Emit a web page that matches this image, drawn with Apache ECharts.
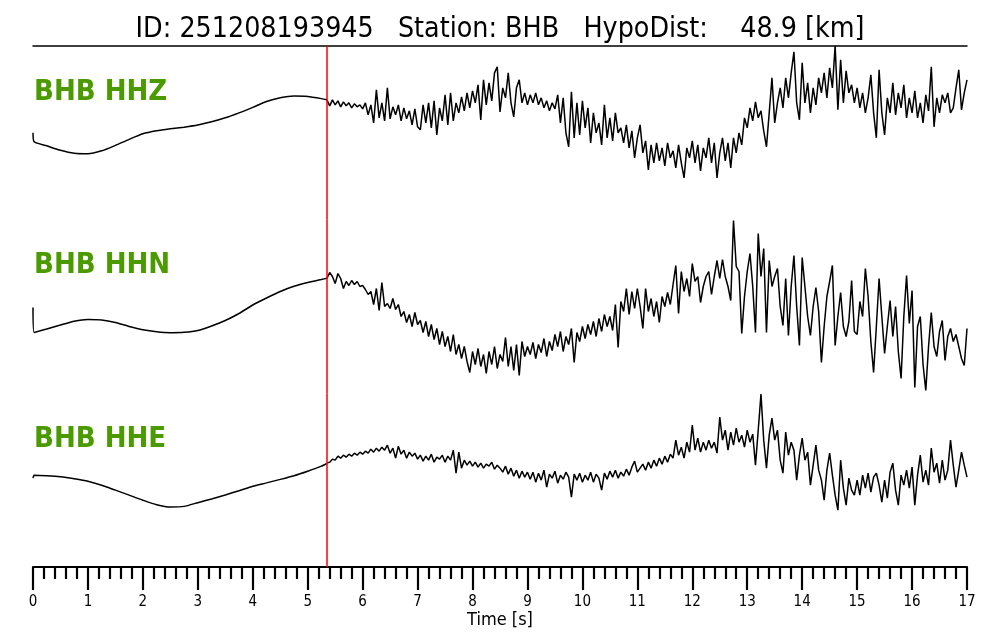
<!DOCTYPE html>
<html><head><meta charset="utf-8">
<script src="https://cdn.jsdelivr.net/npm/echarts@6/dist/echarts.min.js"></script>
<style>html,body{margin:0;padding:0;background:#fff}#c{width:1000px;height:640px}</style>
</head><body><div id="c"></div><script>
const TITLE = 'ID: 251208193945   Station: BHB   HypoDist:    48.9 [km]';
const CHANNELS = ['BHB HHZ', 'BHB HHN', 'BHB HHE'];
const PICK_TIME = 5.35;
const X_MIN = 0, X_MAX = 17;

// pre-pick samples (s)
const PRE_T = [0, 0.02, 0.25, 0.5, 0.75, 1, 1.25, 1.5, 1.75, 2, 2.25, 2.5, 2.75, 3, 3.25, 3.5, 3.75, 4, 4.25, 4.5, 4.75, 5, 5.25, 5.35];
const HHZ_PRE = [0, -9, -13, -17.5, -20.5, -21, -18, -12.5, -6.5, -1, 2, 4, 5.7, 7.8, 11, 15, 20, 25.5, 31.3, 35, 36.8, 36.4, 34.2, 33];
const HHN_PRE = [-1, -26, -22.5, -18.5, -14.7, -13, -13.5, -16, -20, -23.3, -25.3, -26.2, -25.8, -24, -19.5, -14, -7, 1.5, 8.5, 15, 20.2, 24, 27, 28.3];
const HHE_PRE = [2, 5, 4.5, 3.5, 1.5, -1, -5, -10, -15, -20, -24.5, -26.8, -26.2, -22.5, -18.8, -14.8, -10.5, -6, -2.7, 0.8, 4.5, 9, 14, 16.7];

// post-pick samples every POST_DT s from POST_T0
const POST_T0 = 5.35, POST_DT = 0.05;
const HHZ_POST = [
 33, 27, 33, 28, 32, 26, 31, 27, 30, 25, 29, 26, 28, 24,
 30, 18, 28, 10, 43, 15, 30, 12, 45, 14, 26, 18, 28, 12, 25, 14, 22, 8, 24, 6,
 3, 28, 10, 30, 5, 32, -2, 25, 12, 38, 8, 40, 12, 30, 20, 36, 22, 40, 25, 42,
 30, 48, 13, 53, 28, 50, 32, 60, 66, 21, 45, 35, 60, 30, 16, 45, 53, 30, 40, 28,
 38, 30, 40, 28, 35, 25, 32, 22, 30, 24, 38, 10, 35, 0, -14, 41, -5, 30, -2, 32,
 5, 25, -10, 20, 0, 10, -12, 28, -5, 15, -8, 20, 0, 5, -10, 8, -15, 2, -25, -5,
 8, -20, -8, -37, -12, -30, -10, -28, -15, -33, -10, -25, -18, -35, -12, -30, -45, -15, -25, -8,
 -30, -12, -38, -15, -25, -5, -30, -10, -45, -20, -5, -28, -10, -35, -5, -20, 0, -12, 15, 5,
 25, 12, 31, 15, 22, 2, -14, 20, 55, 10, 30, 45, 25, 55, 35, 60, 81, 30, 13, 70,
 30, 50, 20, 45, 28, 55, 40, 60, 35, 65, 45, 87, 23, 73, 30, 62, 40, 48, 30, 45,
 25, 40, 20, 35, 58, 20, -5, 63, 20, -2, 35, 20, 50, 18, 40, 25, 48, 15, 35, 20,
 42, 15, 30, 10, 38, 22, 66, 6, 35, 20, 38, 30, 40, 20, 25, 45, 63, 23, 40, 53];
const HHN_POST = [
 28, 34, 30, 23, 33, 28, 18, 25, 21, 26, 22, 25, 20, 21,
 17, 12, 15, 2, 18, -4, 24, 0, 3, -2, 8, -3, 2, -10, -5, -16, -8, -20, -6, -18,
 -14, -26, -15, -30, -18, -33, -22, -38, -25, -40, -30, -45, -28, -48, -38, -52, -40, -55, -66, -45,
 -58, -42, -60, -48, -67, -45, -58, -40, -62, -48, -55, -31, -60, -40, -64, -38, -69, -35, -50, -40,
 -48, -36, -52, -38, -46, -32, -50, -35, -44, -28, -40, -25, -45, -30, -38, -22, -56, -26, -35, -20,
 -32, -18, -28, -15, -30, -12, -25, -8, -20, -10, -24, 2, -41, 5, -5, 18, -8, 15, -2, 18,
 0, -22, 18, -5, 8, -10, 5, -16, 10, 0, 14, 2, 22, 41, -7, 35, 15, 28, 10, 43,
 25, 30, 4, 20, 30, 35, 12, 30, 46, 28, 47, 30, 20, 6, 86, 40, 35, -27, 10, 35,
 53, 20, -26, 73, 30, 58, -26, 46, 20, 30, 38, 0, -19, 28, -29, 20, 51, 0, -39, 49,
 20, -10, -29, 0, 19, -5, -56, -20, 10, 25, 41, -39, -10, 14, -20, -30, -15, 26, -25, -28,
 5, -10, 38, 10, -35, -66, -20, 28, -10, -47, -20, 6, -30, 0, -45, -72, -10, 31, -17, 16,
 -81, -20, -10, -58, -84, -40, -6, -40, -50, -25, -14, -54, -30, -22, -35, -28, -40, -52, -59, -22];
const HHE_POST = [
 17, 18, 21, 20, 24, 22, 25, 23, 26, 24, 27, 25, 28, 26,
 29, 27, 31, 28, 32, 29, 33, 30, 35, 27, 32, 22, 34, 26, 30, 22, 28, 24, 27, 21,
 25, 19, 24, 20, 26, 18, 23, 21, 25, 18, 24, 20, 30, 7, 28, 12, 20, 15, 19, 14,
 18, 13, 17, 12, 16, 14, 18, 11, 15, 12, 8, 14, 6, 12, 4, 10, 2, 9, 3, 8,
 1, 8, -2, 7, 0, 10, -7, 6, 2, 9, -3, 5, 1, 8, 3, -17, 6, 0, 7, -2,
 5, 0, 8, -2, 6, 2, -10, 7, 1, 9, 3, 10, 2, 8, 4, 11, 5, 13, 19, 8,
 12, 16, 10, 18, 12, 20, 14, 22, 16, 24, 18, 26, 22, 40, 25, 33, 22, 38, 28, 55,
 30, 42, 28, 38, 30, 40, 32, 38, 27, 63, 40, 50, 30, 48, 35, 52, 38, 45, 33, 50,
 38, 46, 15, 50, 86, 40, 12, 45, 62, 40, 50, 20, 7, 48, 25, 38, 30, 0, 25, 42,
 20, 28, -5, 15, 35, 10, 0, -20, 10, 27, 5, -15, -30, 20, -8, -25, 2, -10, -15, 0,
 -15, 5, -8, 7, -12, 3, 7, -5, -22, 0, -18, 8, 17, -10, -25, 5, -5, 10, -8, 13,
 -25, 5, 25, -2, 10, -5, 32, 8, 17, -3, 20, 0, 10, 40, 15, -7, 10, 28, 15, 3];

const PRE = [HHZ_PRE, HHN_PRE, HHE_PRE];
const POST = [HHZ_POST, HHN_POST, HHE_POST];

const FONT = '"DejaVu Sans Condensed", "DejaVu Sans", sans-serif';
const TOP = 46, BOTTOM = 567, LEFT = 33, RIGHT = 33;
const GH = (BOTTOM - TOP) / 3;
const YR = GH / 2;

const grids = [0, 1, 2].map(i => ({ left: LEFT, right: RIGHT, top: TOP + i * GH, height: GH }));
const xAxes = [
  { gridIndex: 0, type: 'value', min: X_MIN, max: X_MAX, position: 'top',
    axisLine: { show: true, onZero: false, lineStyle: { color: '#000', width: 1.5 } },
    axisTick: { show: false }, axisLabel: { show: false }, splitLine: { show: false } },
  { gridIndex: 1, type: 'value', min: X_MIN, max: X_MAX, show: false },
  { gridIndex: 2, type: 'value', min: X_MIN, max: X_MAX, interval: 1, position: 'bottom',
    axisLine: { show: true, onZero: false, lineStyle: { color: '#000', width: 2 } },
    axisTick: { show: true, length: 23, lineStyle: { color: '#000', width: 2.2 } },
    minorTick: { show: true, splitNumber: 5, length: 12, lineStyle: { color: '#000', width: 2.2 } },
    axisLabel: { color: '#000', fontSize: 15, margin: 28, fontFamily: FONT },
    splitLine: { show: false }, minorSplitLine: { show: false },
    name: 'Time [s]', nameLocation: 'middle', nameGap: 43,
    nameTextStyle: { color: '#000', fontSize: 18, fontFamily: FONT } }
];
const yAxes = [0, 1, 2].map(i => ({ gridIndex: i, type: 'value', min: -YR, max: YR, show: false }));

const series = [];
for (let i = 0; i < 3; i++) {
  series.push({
    type: 'line', xAxisIndex: i, yAxisIndex: i, symbol: 'none', smooth: 0.2, silent: true,
    lineStyle: { color: '#000', width: 1.5 },
    data: PRE[i].map((v, k) => [PRE_T[k], v])
  });
  series.push({
    type: 'line', xAxisIndex: i, yAxisIndex: i, symbol: 'none', silent: true,
    lineStyle: { color: '#000', width: 1.5 },
    data: POST[i].map((v, k) => [+(POST_T0 + k * POST_DT).toFixed(2), v]),
    markLine: { silent: true, symbol: ['none', 'none'], label: { show: false },
      lineStyle: { color: '#ff0000', width: 1.5, type: 'solid', opacity: 1 },
      emphasis: { disabled: true },
      data: [{ xAxis: PICK_TIME }] }
  });
}

const chart = echarts.init(document.getElementById('c'));
chart.setOption({
  animation: false,
  backgroundColor: '#fff',
  title: { text: TITLE, left: 'center', top: 11,
    textStyle: { fontSize: 28.3, fontWeight: 'normal', color: '#000', fontFamily: FONT } },
  grid: grids, xAxis: xAxes, yAxis: yAxes, series: series,
  graphic: CHANNELS.map((c, i) => ({
    type: 'text', left: 34, top: [78, 251, 425][i], silent: true,
    style: { text: c, fill: '#4a9a00', fontSize: 29, fontWeight: 'bold', fontFamily: FONT }
  }))
});
</script></body></html>
